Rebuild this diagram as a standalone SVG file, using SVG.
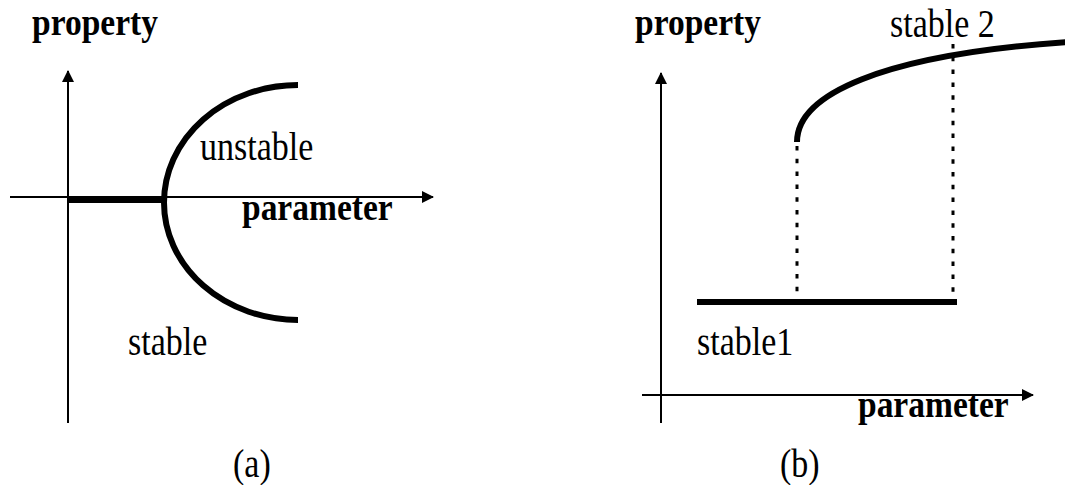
<svg xmlns="http://www.w3.org/2000/svg" width="1065" height="485" viewBox="0 0 1065 485">
<style>
.axis{stroke:#000;stroke-width:2;fill:none}
.thick{stroke:#000;stroke-width:6;fill:none}
.dot{stroke:#000;stroke-width:3;fill:none;stroke-dasharray:4.5 8.3}
.b{font-family:"Liberation Serif",serif;font-weight:bold;font-size:33.5px;fill:#000}
.r{font-family:"Liberation Serif",serif;font-size:34px;fill:#000}
</style>
<defs>
<marker id="ah" viewBox="0 0 12 12" refX="11" refY="6" markerWidth="12" markerHeight="12" markerUnits="userSpaceOnUse" orient="auto">
<path d="M0,0 L12,6 L0,12 Z" fill="#000"/>
</marker>
</defs>
<rect width="1065" height="485" fill="#fff"/>
<g id="connectors">
<line id="a-yaxis" class="axis" x1="68" y1="423" x2="68" y2="71" marker-end="url(#ah)"/>
<line id="a-xaxis" class="axis" x1="10" y1="197" x2="433" y2="197" marker-end="url(#ah)"/>
<line id="b-yaxis" class="axis" x1="661" y1="423" x2="661" y2="73" marker-end="url(#ah)"/>
<line id="b-xaxis" class="axis" x1="642" y1="395" x2="1033" y2="395" marker-end="url(#ah)"/>
</g>
<g id="panel-a">
<line id="a-stable-branch" class="thick" x1="68" y1="200" x2="164" y2="200"/>
<path id="a-arc" class="thick" d="M298,85 A134,117.5 0 0 0 298,320"/>
<text class="b" transform="translate(32,35) scale(1,1.15)">property</text>
<text class="r" transform="translate(200,160) scale(1,1.15)">unstable</text>
<text class="b" transform="translate(242,220) scale(1,1.15)">parameter</text>
<text class="r" transform="translate(128,355) scale(1,1.15)">stable</text>
<text class="r" transform="translate(233,477) scale(1,1.15)">(a)</text>
</g>
<g id="panel-b">
<line id="b-stable1" class="thick" x1="697" y1="302" x2="957" y2="302"/>
<path id="b-stable2" class="thick" d="M797,142 C797,95 880,55 1068,42"/>
<line class="dot" x1="797" y1="146" x2="797" y2="292"/>
<line class="dot" x1="953" y1="44" x2="953" y2="299"/>
<text class="b" transform="translate(635,35) scale(1,1.15)">property</text>
<text class="r" transform="translate(890,37) scale(1,1.15)">stable 2</text>
<text class="b" transform="translate(858,417) scale(1,1.15)">parameter</text>
<text class="r" transform="translate(697,355) scale(1,1.15)">stable1</text>
<text class="r" transform="translate(780,477) scale(1,1.15)">(b)</text>
</g>
</svg>
